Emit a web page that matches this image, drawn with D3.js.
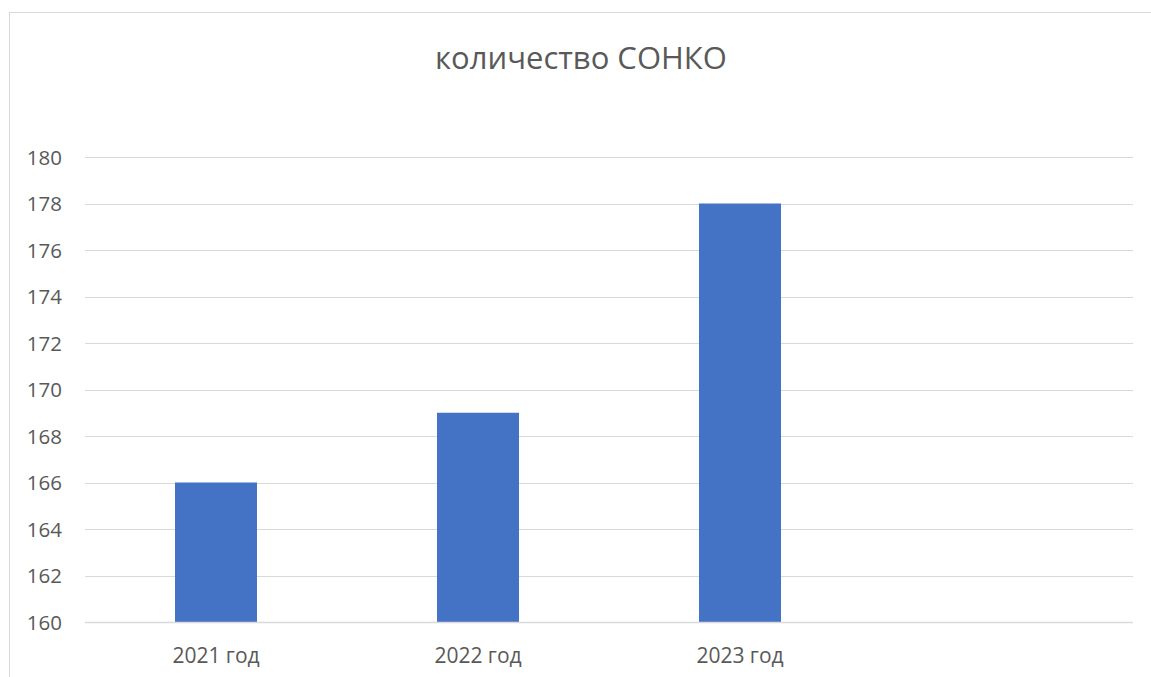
<!DOCTYPE html>
<html><head><meta charset="utf-8">
<script src="https://cdn.jsdelivr.net/npm/d3@7"></script>
<style>body{margin:0;background:#fff;}svg{display:block;}</style>
</head><body>
<script>
const categories = ["2021 год", "2022 год", "2023 год", ""];
const values = [166, 169, 178, null];
const yTicks = [160, 162, 164, 166, 168, 170, 172, 174, 176, 178, 180];
const title = "количество СОНКО";

const W = 1151, H = 677;
const svg = d3.select("body").append("svg").attr("width", W).attr("height", H);
svg.append("rect").attr("x", 9.5).attr("y", 12.5).attr("width", W + 20).attr("height", H + 20)
  .attr("fill", "#fff").attr("stroke", "#d9d9d9").attr("stroke-width", 1);

const x = d3.scaleBand().domain(categories).range([85, 1133]).paddingInner(0.687).paddingOuter(0.3435);
const y = d3.scaleLinear().domain([160, 180]).range([622, 157]);
const font = "'Open Sans', 'Liberation Sans', sans-serif";

svg.append("text").attr("x", 581).attr("y", 69).attr("text-anchor", "middle")
  .attr("font-family", font).attr("font-size", 31).attr("fill", "#595959").text(title);

const grid = svg.append("g");
grid.selectAll("line").data(yTicks).join("line")
  .attr("x1", 85).attr("x2", 1133)
  .attr("y1", d => Math.round(y(d)) + 0.5).attr("y2", d => Math.round(y(d)) + 0.5)
  .attr("stroke", "#d9d9d9").attr("stroke-width", 1);

const yAxis = d3.axisLeft(y).tickValues(yTicks).tickSize(0).tickPadding(0);
const ya = svg.append("g").attr("transform", "translate(62,0)").call(yAxis);
ya.select(".domain").remove();
ya.selectAll("text").attr("font-family", font).attr("font-size", 20.5).attr("fill", "#595959").attr("dy", "0.35em");

const bw = 82;
svg.append("g").selectAll("rect").data(categories.map((c, i) => ({c, v: values[i]})).filter(d => d.v != null))
  .join("rect")
  .attr("x", d => x(d.c) + x.bandwidth() / 2 - bw / 2)
  .attr("width", bw)
  .attr("y", d => y(d.v))
  .attr("height", d => y(160) - y(d.v))
  .attr("fill", "#4472c4");

svg.append("line").attr("x1", 85).attr("x2", 1133).attr("y1", Math.round(y(160)) + 0.5).attr("y2", Math.round(y(160)) + 0.5)
  .attr("stroke", "#d9d9d9").attr("stroke-width", 1.5);

const xAxis = d3.axisBottom(x).tickSize(0).tickPadding(0);
const xa = svg.append("g").attr("transform", "translate(0,663)").call(xAxis);
xa.select(".domain").remove();
xa.selectAll("text").attr("font-family", font).attr("font-size", 21).attr("fill", "#595959").attr("dy", 0);
</script>
</body></html>
